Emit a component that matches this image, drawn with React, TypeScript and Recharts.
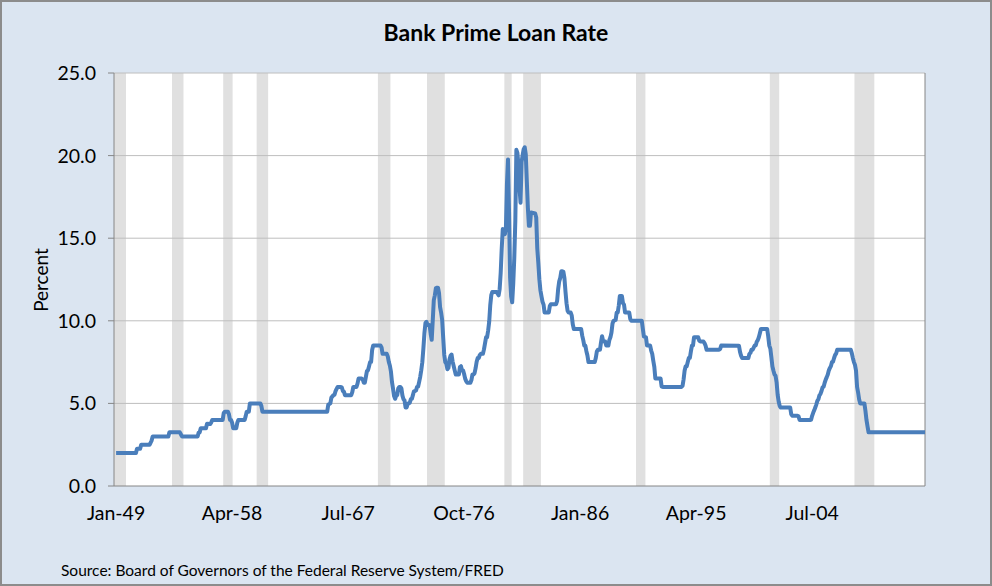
import { ComposedChart, Line, XAxis, YAxis, ReferenceArea, ReferenceLine } from 'recharts'

// prime rate, monthly averages at the months where it moved (flat stretches keep both ends)
const rateDates = [
  '1949-01', '1950-08', '1950-09', '1950-12', '1951-01', '1951-09', '1951-10', '1951-11', '1951-12',
  '1953-03', '1953-04', '1954-02', '1954-03', '1954-04', '1955-07', '1955-08', '1955-09', '1955-10',
  '1956-03', '1956-04', '1956-07', '1956-08', '1956-09', '1957-07', '1957-08', '1957-09', '1957-12',
  '1958-01', '1958-02', '1958-03', '1958-04', '1958-05', '1958-08', '1958-09', '1958-10', '1959-04',
  '1959-05', '1959-06', '1959-08', '1959-09', '1960-07', '1960-08', '1960-09', '1965-11', '1965-12',
  '1966-02', '1966-03', '1966-05', '1966-06', '1966-07', '1966-08', '1966-09', '1966-12', '1967-01',
  '1967-02', '1967-03', '1967-04', '1967-10', '1967-11', '1967-12', '1968-03', '1968-04', '1968-05',
  '1968-08', '1968-09', '1968-10', '1968-11', '1968-12', '1969-01', '1969-02', '1969-03', '1969-04',
  '1969-05', '1969-06', '1969-07', '1970-02', '1970-03', '1970-04', '1970-08', '1970-09', '1970-10',
  '1970-11', '1970-12', '1971-01', '1971-02', '1971-03', '1971-04', '1971-05', '1971-06', '1971-07',
  '1971-08', '1971-09', '1971-10', '1971-11', '1971-12', '1972-01', '1972-02', '1972-03', '1972-04',
  '1972-05', '1972-06', '1972-07', '1972-08', '1972-09', '1972-10', '1972-11', '1972-12', '1973-01',
  '1973-02', '1973-03', '1973-04', '1973-05', '1973-06', '1973-07', '1973-08', '1973-09', '1973-10',
  '1973-11', '1973-12', '1974-01', '1974-02', '1974-03', '1974-04', '1974-05', '1974-06', '1974-07',
  '1974-08', '1974-09', '1974-10', '1974-11', '1974-12', '1975-01', '1975-02', '1975-03', '1975-04',
  '1975-05', '1975-06', '1975-07', '1975-08', '1975-09', '1975-10', '1975-11', '1975-12', '1976-01',
  '1976-02', '1976-05', '1976-06', '1976-07', '1976-08', '1976-09', '1976-10', '1976-11', '1976-12',
  '1977-01', '1977-04', '1977-05', '1977-06', '1977-07', '1977-08', '1977-09', '1977-10', '1977-11',
  '1977-12', '1978-01', '1978-02', '1978-04', '1978-05', '1978-06', '1978-07', '1978-08', '1978-09',
  '1978-10', '1978-11', '1978-12', '1979-01', '1979-05', '1979-06', '1979-07', '1979-08', '1979-09',
  '1979-10', '1979-11', '1979-12', '1980-01', '1980-02', '1980-03', '1980-04', '1980-05', '1980-06',
  '1980-07', '1980-08', '1980-09', '1980-10', '1980-11', '1980-12', '1981-01', '1981-02', '1981-03',
  '1981-04', '1981-05', '1981-06', '1981-07', '1981-08', '1981-09', '1981-10', '1981-11', '1981-12',
  '1982-01', '1982-02', '1982-06', '1982-07', '1982-08', '1982-09', '1982-10', '1982-11', '1982-12',
  '1983-01', '1983-02', '1983-03', '1983-07', '1983-08', '1983-09', '1984-02', '1984-03', '1984-04',
  '1984-05', '1984-06', '1984-07', '1984-08', '1984-09', '1984-10', '1984-11', '1984-12', '1985-01',
  '1985-02', '1985-04', '1985-05', '1985-06', '1985-07', '1986-02', '1986-03', '1986-04', '1986-05',
  '1986-06', '1986-07', '1986-08', '1986-09', '1987-03', '1987-04', '1987-05', '1987-06', '1987-08',
  '1987-09', '1987-10', '1987-11', '1987-12', '1988-01', '1988-02', '1988-04', '1988-05', '1988-06',
  '1988-07', '1988-08', '1988-09', '1988-11', '1988-12', '1989-01', '1989-02', '1989-03', '1989-05',
  '1989-06', '1989-07', '1989-08', '1989-12', '1990-01', '1990-02', '1990-12', '1991-01', '1991-02',
  '1991-04', '1991-05', '1991-08', '1991-09', '1991-10', '1991-11', '1991-12', '1992-01', '1992-06',
  '1992-07', '1992-08', '1994-02', '1994-03', '1994-04', '1994-05', '1994-06', '1994-07', '1994-08',
  '1994-09', '1994-10', '1994-11', '1994-12', '1995-01', '1995-02', '1995-06', '1995-07', '1995-08',
  '1995-11', '1995-12', '1996-01', '1996-02', '1997-02', '1997-03', '1997-04', '1998-09', '1998-10',
  '1998-11', '1998-12', '1999-06', '1999-07', '1999-08', '1999-09', '1999-10', '1999-11', '1999-12',
  '2000-01', '2000-02', '2000-03', '2000-04', '2000-05', '2000-06', '2000-12', '2001-01', '2001-02',
  '2001-03', '2001-04', '2001-05', '2001-06', '2001-07', '2001-08', '2001-09', '2001-10', '2001-11',
  '2001-12', '2002-01', '2002-10', '2002-11', '2002-12', '2003-05', '2003-06', '2003-07', '2004-05',
  '2004-06', '2004-07', '2004-08', '2004-09', '2004-10', '2004-11', '2004-12', '2005-01', '2005-02',
  '2005-03', '2005-04', '2005-05', '2005-06', '2005-07', '2005-08', '2005-09', '2005-10', '2005-11',
  '2005-12', '2006-01', '2006-02', '2006-03', '2006-04', '2006-05', '2006-06', '2006-07', '2007-08',
  '2007-09', '2007-10', '2007-11', '2007-12', '2008-01', '2008-02', '2008-03', '2008-04', '2008-05',
  '2008-09', '2008-10', '2008-11', '2008-12', '2009-01', '2013-07',
]

const rateValues = [
  2.0, 2.0, 2.25, 2.25, 2.5, 2.5, 2.62, 2.75, 3.0,
  3.0, 3.25, 3.25, 3.13, 3.0, 3.0, 3.23, 3.25, 3.5,
  3.5, 3.77, 3.75, 3.84, 4.0, 4.0, 4.42, 4.5, 4.5,
  4.34, 4.0, 4.0, 3.83, 3.5, 3.5, 3.83, 4.0, 4.0,
  4.23, 4.5, 4.5, 5.0, 5.0, 4.85, 4.5, 4.5, 4.92,
  5.0, 5.35, 5.5, 5.52, 5.75, 5.88, 6.0, 6.0, 5.96,
  5.75, 5.71, 5.5, 5.5, 5.68, 6.0, 6.0, 6.2, 6.5,
  6.5, 6.45, 6.25, 6.25, 6.6, 6.95, 7.0, 7.24, 7.5,
  7.5, 8.23, 8.5, 8.5, 8.39, 8.0, 8.0, 7.83, 7.5,
  7.28, 6.92, 6.29, 5.88, 5.44, 5.28, 5.46, 5.5, 5.91,
  6.0, 6.0, 5.91, 5.47, 5.25, 5.18, 4.75, 4.75, 4.97,
  5.0, 5.04, 5.25, 5.27, 5.5, 5.73, 5.75, 5.79, 6.0,
  6.02, 6.3, 6.61, 7.01, 7.49, 8.3, 9.23, 9.86, 9.94,
  9.75, 9.75, 9.73, 9.21, 8.85, 10.02, 11.25, 11.54, 11.98,
  12.0, 12.0, 11.68, 10.83, 10.5, 10.05, 8.96, 7.93, 7.5,
  7.4, 7.07, 7.15, 7.66, 7.88, 7.96, 7.53, 7.26, 7.0,
  6.75, 6.75, 7.2, 7.25, 7.01, 7.0, 6.78, 6.5, 6.35,
  6.25, 6.25, 6.41, 6.75, 6.75, 6.83, 7.13, 7.52, 7.75,
  7.75, 7.93, 8.0, 8.0, 8.27, 8.63, 9.0, 9.01, 9.41,
  9.94, 10.94, 11.55, 11.75, 11.75, 11.65, 11.54, 11.91, 12.9,
  14.39, 15.55, 15.3, 15.25, 15.63, 18.31, 19.77, 16.57, 12.63,
  11.48, 11.12, 12.23, 13.79, 16.06, 20.35, 20.16, 19.43, 18.05,
  17.15, 19.61, 20.03, 20.39, 20.5, 20.08, 18.45, 16.84, 15.75,
  15.75, 16.56, 16.5, 16.26, 14.39, 13.5, 12.52, 11.85, 11.5,
  11.16, 10.98, 10.5, 10.5, 10.89, 11.0, 11.0, 11.21, 11.93,
  12.39, 12.6, 13.0, 13.0, 12.97, 12.58, 11.77, 11.06, 10.61,
  10.5, 10.5, 10.31, 9.78, 9.5, 9.5, 9.1, 8.83, 8.5,
  8.5, 8.16, 7.9, 7.5, 7.5, 7.75, 8.14, 8.25, 8.25,
  8.7, 9.07, 8.78, 8.75, 8.75, 8.51, 8.5, 8.84, 9.0,
  9.29, 9.84, 10.0, 10.05, 10.5, 10.5, 10.93, 11.5, 11.5,
  11.07, 10.98, 10.5, 10.5, 10.11, 10.0, 10.0, 9.52, 9.05,
  9.0, 8.5, 8.5, 8.2, 8.0, 7.58, 7.21, 6.5, 6.5,
  6.02, 6.0, 6.0, 6.06, 6.45, 6.99, 7.25, 7.25, 7.51,
  7.75, 7.75, 8.15, 8.5, 8.5, 9.0, 9.0, 8.8, 8.75,
  8.75, 8.65, 8.5, 8.25, 8.25, 8.3, 8.5, 8.49, 8.12,
  7.89, 7.75, 7.75, 8.0, 8.06, 8.25, 8.25, 8.37, 8.5,
  8.5, 8.73, 8.83, 9.0, 9.24, 9.5, 9.5, 9.05, 8.5,
  8.32, 7.8, 7.24, 6.98, 6.75, 6.67, 6.28, 5.53, 5.1,
  4.84, 4.75, 4.75, 4.35, 4.25, 4.25, 4.22, 4.0, 4.0,
  4.01, 4.25, 4.43, 4.58, 4.75, 4.93, 5.15, 5.25, 5.49,
  5.58, 5.75, 5.98, 6.01, 6.25, 6.44, 6.59, 6.75, 7.0,
  7.15, 7.26, 7.5, 7.53, 7.75, 7.93, 8.02, 8.25, 8.25,
  8.03, 7.74, 7.5, 7.33, 6.98, 6.0, 5.66, 5.24, 5.0,
  5.0, 4.56, 4.0, 3.61, 3.25, 3.25,
]

// NBER recessions (shaded)
const recessionStarts = ['1948-11', '1953-07', '1957-08', '1960-04', '1969-12', '1973-11', '1980-01', '1981-07', '1990-07', '2001-03', '2007-12']
const recessionEnds = ['1949-10', '1954-05', '1958-04', '1961-02', '1970-11', '1975-03', '1980-07', '1982-11', '1991-03', '2001-11', '2009-06']

const xTickLabels = ['Jan-49', 'Apr-58', 'Jul-67', 'Oct-76', 'Jan-86', 'Apr-95', 'Jul-04']
const xTicks = ['1949-01', '1958-04', '1967-07', '1976-10', '1986-01', '1995-04', '2004-07']
const yTicks = [0, 5, 10, 15, 20, 25]

const toMonth = (d: string) => {
  const [y, m] = d.split('-').map(Number)
  return (y - 1949) * 12 + (m - 1)
}

const data = rateDates.map((d, i) => ({ m: toMonth(d), rate: rateValues[i] }))
const tickMonths = xTicks.map(toMonth)

const FONT = 'Lato, "Open Sans", sans-serif'
const AXIS = '#868686'

export default function App() {
  return (
    <div style={{ position: 'absolute', left: 0, top: 0, width: 992, height: 586, background: '#DBE5F1', fontFamily: FONT }}>
      <div style={{ position: 'absolute', top: 18, left: 0, width: 992, textAlign: 'center', fontSize: 23, fontWeight: 700, color: '#000' }}>
        Bank Prime Loan Rate
      </div>
      <div
        style={{
          position: 'absolute',
          left: 40,
          top: 280,
          transform: 'translate(-50%, -50%) rotate(-90deg)',
          fontSize: 19,
          color: '#000',
          whiteSpace: 'nowrap',
        }}
      >
        Percent
      </div>
      <ComposedChart width={992} height={586} data={data} margin={{ top: 73, right: 67, bottom: 0, left: 0 }}>
        <XAxis
          dataKey="m"
          type="number"
          domain={[-2, 774]}
          allowDataOverflow
          ticks={tickMonths}
          tickFormatter={(v) => xTickLabels[tickMonths.indexOf(v)] ?? ''}
          tickLine={false}
          tickMargin={14}
          axisLine={{ stroke: AXIS }}
          tick={{ fontSize: 19.5, fill: '#000', fontFamily: FONT }}
          height={100}
        />
        <YAxis
          type="number"
          domain={[0, 25]}
          ticks={yTicks}
          tickFormatter={(v) => Number(v).toFixed(1)}
          width={114}
          tickMargin={12}
          tickLine={{ stroke: AXIS }}
          axisLine={{ stroke: AXIS }}
          tick={{ fontSize: 19.5, fill: '#000', fontFamily: FONT }}
        />
        <ReferenceArea x1={-2} x2={774} y1={0} y2={25} fill="#FFFFFF" fillOpacity={1} stroke="none" ifOverflow="hidden" />
        {recessionStarts.map((s, i) => (
          <ReferenceArea
            key={s}
            x1={toMonth(s) - 0.5}
            x2={toMonth(recessionEnds[i]) + 0.5}
            y1={0}
            y2={25}
            fill="#E0E0E0"
            fillOpacity={1}
            stroke="none"
            ifOverflow="hidden"
          />
        ))}
        {yTicks.slice(1).map((v) => (
          <ReferenceLine key={v} y={v} stroke="#BEBEBE" strokeWidth={1} />
        ))}
        <ReferenceLine x={774} stroke={AXIS} strokeWidth={1} />
        <Line
          type="linear"
          dataKey="rate"
          stroke="#4A7EBB"
          strokeWidth={4}
          strokeLinejoin="round"
          dot={false}
          isAnimationActive={false}
        />
      </ComposedChart>
      <div style={{ position: 'absolute', left: 61, top: 561, fontSize: 15.5, color: '#000', whiteSpace: 'nowrap' }}>
        Source: Board of Governors of the Federal Reserve System/FRED
      </div>
      <div style={{ position: 'absolute', inset: 0, border: '2px solid #8C8C8C', boxSizing: 'border-box', pointerEvents: 'none' }} />
    </div>
  )
}
